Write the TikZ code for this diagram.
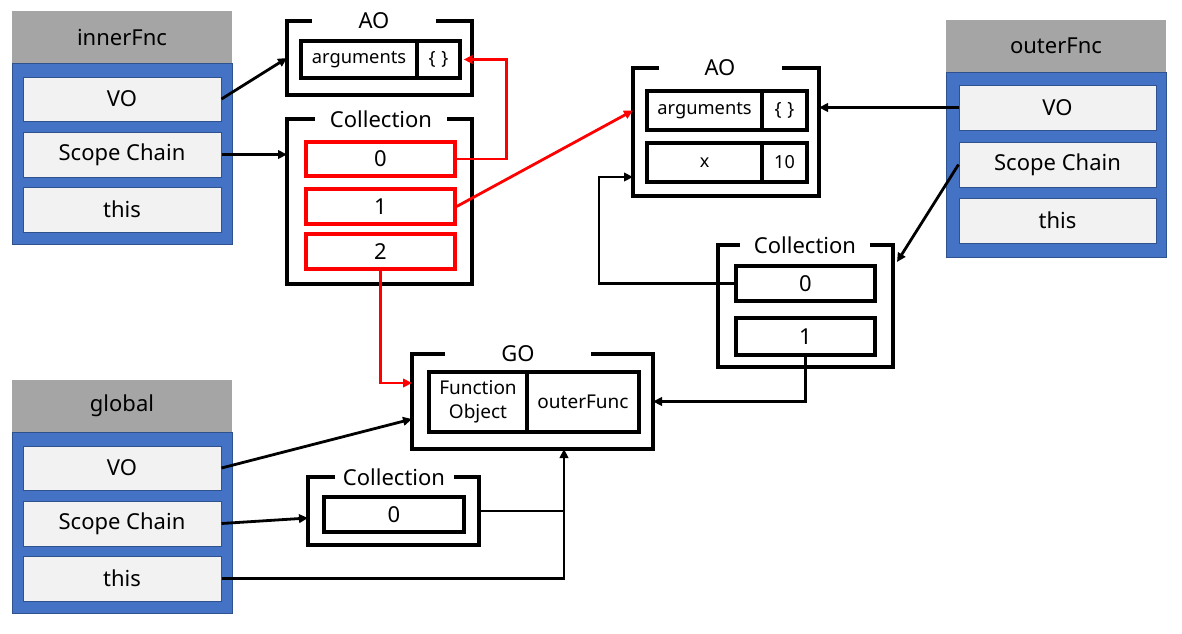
\documentclass[tikz,border=0pt]{standalone}
\usepackage{fontspec}
\setmainfont{Noto Sans}
\usetikzlibrary{arrows.meta,calc}
\definecolor{hdr}{HTML}{A5A5A5}
\definecolor{bodyblue}{HTML}{4472C4}
\definecolor{edgeblue}{HTML}{2F528F}
\definecolor{cellgray}{HTML}{F2F2F2}
\definecolor{lnred}{HTML}{FF0000}

% box from corner (x1,y1) to (x2,y2), y growing downwards
\newcommand\bx[7]{\node[#6,minimum width={(#4)-(#2)},minimum height={(#5)-(#3)}]
  (#1) at ({((#2)+(#4))/2},{((#3)+(#5))/2}) {#7};}
% open-topped frame: left stub length, right stub length
\newcommand\brk[3]{\draw[frameline] ($(#1.north west)+(#2,0)$) -- (#1.north west)
  -- (#1.south west) -- (#1.south east) -- (#1.north east) -- ($(#1.north east)+(-#3,0)$);}
\newcommand\braces{\{\hspace{6pt}\}}

\tikzset{
  hdrbox/.style={fill=hdr,draw=none,inner sep=0,font=\fontsize{22}{26}\selectfont},
  bodybox/.style={fill=bodyblue,draw=edgeblue,line width=0.8pt,inner sep=0},
  slot/.style={fill=cellgray,draw=edgeblue,line width=1pt,inner sep=0,font=\fontsize{22}{26}\selectfont},
  framebox/.style={inner sep=0,outer sep=0},
  frameline/.style={line width=4.4pt},
  title/.style={inner sep=0,font=\fontsize{22}{26}\selectfont},
  cellbox/.style={draw,line width=3.4pt,inner sep=0,font=\fontsize{18.3}{22}\selectfont},
  numcell/.style={cellbox,font=\fontsize{18}{22}\selectfont},
  gocell/.style={cellbox,align=center,font=\fontsize{19}{23.5}\selectfont},
  redbox/.style={draw=lnred,line width=3.2pt,inner sep=0,font=\fontsize{22}{26}\selectfont},
  blackbox/.style={draw,line width=3.4pt,inner sep=0,font=\fontsize{22}{26}\selectfont},
  conn/.style={line width=2.8pt,-{Triangle[length=9pt,width=8.5pt]}},
  connred/.style={conn,draw=lnred,-{Triangle[length=9pt,width=8.5pt,fill=lnred]}},
  plainline/.style={line width=2.8pt},
}

\begin{document}
\begin{tikzpicture}[x=1pt,y=-1pt]
\useasboundingbox[fill=white] (0,0) rectangle (1182,633);

% ---- execution contexts ----
\bx{ihd}{12}{11}{232}{63}{hdrbox}{innerFnc}
\bx{ibd}{12}{63}{232}{244}{bodybox}{}
\bx{ivo}{23}{77}{221}{121}{slot}{VO}
\bx{isc}{23}{132}{221}{177}{slot}{Scope Chain}
\bx{ith}{23}{187}{221}{232}{slot}{this}

\bx{ghd}{12}{380}{232}{432}{hdrbox}{global}
\bx{gbd}{12}{432}{232}{613}{bodybox}{}
\bx{gvo}{23}{446}{221}{490}{slot}{VO}
\bx{gsc}{23}{501}{221}{546}{slot}{Scope Chain}
\bx{gth}{23}{556}{221}{601}{slot}{this}

\bx{ohd}{946}{20}{1166}{72}{hdrbox}{outerFnc}
\bx{obd}{946}{72}{1166}{257}{bodybox}{}
\bx{ovo}{959}{85}{1156}{130}{slot}{VO}
\bx{osc}{959}{142}{1156}{187}{slot}{Scope Chain}
\bx{oth}{959}{198}{1156}{243}{slot}{this}

% ---- frames ----
\bx{ao1}{287}{21}{472}{95}{framebox}{}
\brk{ao1}{25}{36}
\node[title] (ao1t) at (374,21) {AO};
\bx{a1args}{301}{41}{417}{78}{cellbox}{arguments}
\bx{a1brc}{417}{41}{460}{78}{cellbox}{\braces}

\bx{coll1}{287}{119}{472}{284}{framebox}{}
\brk{coll1}{28}{25}
\node[title] (coll1t) at (381,119) {Collection};
\bx{c1b0}{306}{142}{455}{176}{redbox}{0}
\bx{c1b1}{306}{189}{455}{224}{redbox}{1}
\bx{c1b2}{306}{234}{455}{269}{redbox}{2}

\bx{ao2}{633}{68}{819}{196}{framebox}{}
\brk{ao2}{26}{37}
\node[title] (ao2t) at (720,68) {AO};
\bx{a2args}{647}{91}{762}{130}{cellbox}{arguments}
\bx{a2brc}{762}{91}{807}{130}{cellbox}{\braces}
\bx{a2x}{647}{143}{762}{182}{numcell}{x}
\bx{a2val}{762}{143}{807}{182}{numcell}{10}

\bx{coll2}{718}{245}{893}{367}{framebox}{}
\brk{coll2}{22}{23}
\node[title] (coll2t) at (805,245) {Collection};
\bx{c2b0}{736}{266}{875}{301}{blackbox}{0}
\bx{c2b1}{736}{318}{875}{355}{blackbox}{1}

\bx{go}{412}{354}{653}{449}{framebox}{}
\brk{go}{33}{62}
\node[title] (got) at (518,354) {GO};
\bx{gofo}{429}{372}{527}{432}{gocell}{Function\\Object}
\bx{goof}{527}{372}{639}{432}{gocell}{outerFunc}

\bx{coll3}{308}{477}{479}{545}{framebox}{}
\brk{coll3}{27}{25}
\node[title] (coll3t) at (394,477) {Collection};
\bx{c3b0}{324}{497}{464}{532}{blackbox}{0}

% ---- connectors ----
\draw[conn] (ivo.east) -- (ao1.west);
\draw[conn] (isc.east) -- (coll1.west |- isc.east);
\draw[connred] (c1b0.east) -| ($(a1brc.east)+(45,0)$) -- ($(a1brc.east)+(2,0)$);
\draw[connred] (c1b1.east) -- (ao2.west |- a2args.west);
\draw[connred] (c1b2.south) |- ($(go.north west)+(0,29)$);

\draw[conn] (ovo.west) -- (ao2.east |- ovo.west);
\draw[conn] (osc.west) -- ($(coll2.north east)+(4,17)$);
\draw[conn] (c2b0.west) -| ($(ao2.south west)+(-34,-19)$) -- ($(ao2.south west)+(0,-19)$);
\draw[conn] (c2b1.south) |- (go.east);

\coordinate (join) at ($(go.south)+(31.5,0)$);
\draw[conn] (gvo.east) -- ($(go.north west)+(0,65)$);
\draw[conn] (gsc.east) -- ($(coll3.west)+(0,7)$);
\draw[conn] (gth.east) -| (join);
\draw[plainline] (coll3.east) -- (coll3.east -| join);
\end{tikzpicture}
\end{document}
